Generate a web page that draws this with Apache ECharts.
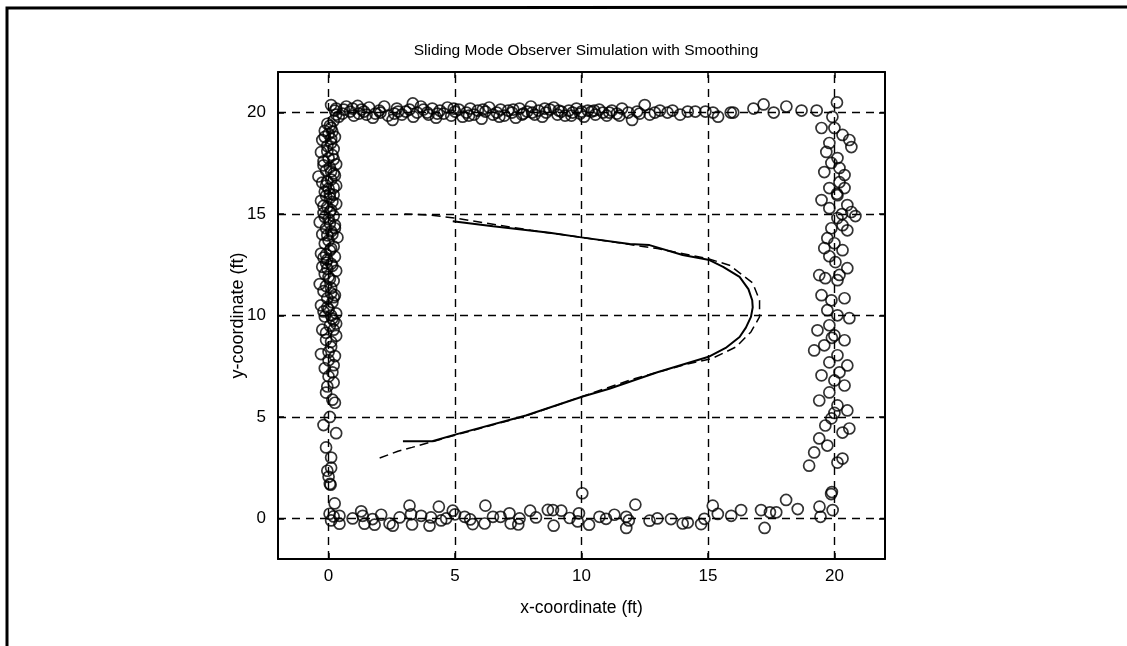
<!DOCTYPE html>
<html>
<head>
<meta charset="utf-8">
<script src="https://cdn.jsdelivr.net/npm/echarts@6/dist/echarts.min.js"></script>
<style>
html,body{margin:0;padding:0;background:#fff;}
#chart{width:1127px;height:646px;}
</style>
</head>
<body>
<div id="chart"></div>
<script>
const titleText = 'Sliding Mode Observer Simulation with Smoothing';
const xName = 'x-coordinate (ft)';
const yName = 'y-coordinate (ft)';
const xTicks = [0, 5, 10, 15, 20];
const yTicks = [0, 5, 10, 15, 20];

// measured landmark points (x, y) in ft
const topRow = [
[0.1,20.37],[0.25,20.1],[0.4,19.8],[0.3,20.2],[0.55,19.95],[0.7,20.3],[0.85,20.05],[1.0,19.85],[1.15,20.33],[1.3,20.15],
[1.5,19.9],[1.6,20.25],[1.75,19.75],[2.0,20.1],[2.05,20.0],[2.2,20.3],[2.35,19.85],[2.53,19.64],[2.7,20.2],[2.75,20.05],
[2.9,19.9],[3.33,20.45],[3.2,20.15],[3.35,19.8],[3.5,20.0],[3.65,20.3],[3.9,20.0],[3.95,19.9],[4.1,20.2],[4.25,19.75],
[4.4,20.1],[4.55,19.95],[4.7,20.25],[4.85,19.85],[5.0,20.05],[5.15,20.15],[5.3,19.8],[5.45,20.0],[5.6,20.2],[5.75,19.9],
[5.9,20.1],[6.05,19.7],[6.2,20.05],[6.35,20.25],[6.5,19.9],[6.65,20.0],[6.8,20.15],[6.95,19.85],[7.1,20.1],[7.25,20.0],
[7.4,19.75],[7.55,20.2],[7.7,19.95],[7.85,20.05],[8.0,20.3],[8.15,19.9],[8.3,20.1],[8.45,19.8],[8.6,20.0],[8.75,20.15],
[8.9,20.25],[9.05,19.9],[9.2,20.05],[9.35,19.85],[9.5,20.1],[9.65,20.0],[9.8,20.2],[9.95,19.95],[10.1,19.8],[10.25,20.1],
[10.4,20.05],[10.55,19.9],[10.7,20.15],[10.85,20.0],[11.0,19.85],[11.2,20.1],[11.4,19.95],[11.6,20.2],[11.85,20.0],[12.0,19.64],
[12.2,20.05],[12.5,20.37],[12.7,19.9],[13.1,20.1],[13.4,20.0],[13.9,19.9],[14.2,20.05],[14.5,20.05],[14.9,20.05],[15.2,20.0],
[15.4,19.8],[15.9,20.0],[16.0,20.0],[16.8,20.2],[17.2,20.4],[17.6,20.0],[18.1,20.3],[18.7,20.1],[19.3,20.1],
[0.6,20.15],[0.95,20.2],[1.2,19.95],[1.4,20.05],[1.85,19.95],[2.6,19.95],[3.05,20.05],[3.75,20.15],[4.3,19.95],[4.95,20.2],
[5.55,19.85],[6.1,20.15],[6.75,19.8],[7.3,20.15],[7.65,19.9],[8.05,20.0],[8.55,20.2],[9.1,20.1],[9.6,19.85],[10.0,20.05],
[10.5,20.1],[11.1,20.0],[11.5,19.85],[12.3,19.95],[12.9,20.0],[13.6,20.1]
];
const leftCol = [
[0.05,1.7],[0.0,2.05],[-0.05,2.35],[0.1,2.5],[-0.1,3.5],[0.3,4.2],[-0.2,4.6],[0.05,5.0],[0.25,5.7],[0.15,5.85],
[-0.1,6.2],[0.2,6.7],[0.0,7.0],[-0.15,7.4],[0.2,7.55],[-0.3,8.1],[0.25,8.0],[0.1,8.45],[-0.1,8.8],[0.3,9.0],
[-0.25,9.3],[0.05,9.5],[0.2,9.75],[-0.15,9.95],[0.3,10.1],[0.0,10.3],[-0.3,10.5],[0.15,10.65],[-0.05,10.85],[0.25,11.0],
[-0.2,11.2],[0.1,11.35],[-0.35,11.55],[0.2,11.7],[0.0,11.9],[-0.15,12.05],[0.3,12.2],[-0.25,12.4],[0.1,12.55],[-0.05,12.75],
[0.25,12.9],[-0.3,13.05],[0.05,13.2],[0.2,13.4],[-0.15,13.55],[0.0,13.7],[0.35,13.85],[-0.25,14.0],[0.1,14.15],[-0.1,14.3],
[0.25,14.45],[-0.35,14.6],[0.0,14.75],[0.2,14.9],[-0.2,15.05],[0.1,15.2],[-0.05,15.35],[0.3,15.5],[-0.3,15.65],[0.05,15.8],
[0.2,15.95],[-0.15,16.1],[0.0,16.25],[0.3,16.4],[-0.25,16.55],[0.1,16.7],[-0.4,16.85],[0.2,17.0],[-0.1,17.15],[0.05,17.3],
[0.3,17.45],[-0.2,17.6],[0.0,17.75],[0.15,17.9],[-0.3,18.05],[0.2,18.2],[-0.05,18.35],[0.1,18.5],[-0.25,18.65],[0.25,18.8],
[0.0,18.95],[-0.15,19.1],[0.1,19.25],[-0.05,19.45],[0.2,19.6],[-0.1,13.0],[0.15,14.0],[-0.2,15.4],[0.05,16.0],[0.25,16.9],
[-0.05,12.3],[0.1,11.1],[-0.2,10.2],[0.2,9.3],[0.0,8.2],[0.3,19.9],[0.3,9.6],
[0.1,8.7],[-0.1,9.15],[0.15,9.85],[-0.05,10.4],[0.2,10.9],[-0.1,11.45],[0.05,11.8],[0.15,12.45],[-0.2,12.85],[0.1,13.3],
[-0.05,13.95],[0.25,14.3],[-0.15,14.85],[0.05,15.1],[0.15,15.6],[-0.1,15.9],[0.2,16.3],[-0.05,16.6],[0.1,17.1],[-0.2,17.4],
[0.2,17.7],[-0.05,18.1],[0.1,18.7],[-0.15,18.8],[0.05,19.35],[0.15,19.05],[-0.1,12.6],[0.05,14.55],[-0.1,16.4],[0.1,10.0],
[0.0,7.8],[0.15,7.2],[-0.05,6.5],[0.1,3.0]
];
const bottomRow = [
[0.08,1.66],[0.24,0.74],[0.04,0.23],[0.2,0.1],[0.43,0.13],[0.43,-0.26],[0.1,-0.1],[0.95,0.0],[1.29,0.35],[1.35,0.13],
[1.42,-0.26],[1.74,-0.03],[1.82,-0.31],[2.08,0.18],[2.41,-0.25],[2.54,-0.36],[2.81,0.05],[3.2,0.63],[3.26,0.2],[3.3,-0.3],
[3.66,0.13],[3.99,-0.36],[4.05,0.05],[4.36,0.58],[4.45,-0.1],[4.65,0.0],[4.91,0.38],[5.0,0.2],[5.38,0.08],[5.6,-0.05],
[5.7,-0.28],[6.17,-0.25],[6.2,0.63],[6.5,0.08],[6.8,0.08],[7.15,0.25],[7.2,-0.25],[7.5,-0.3],[7.55,0.0],[7.97,0.38],
[8.2,0.05],[8.67,0.42],[8.87,0.41],[8.9,-0.36],[9.2,0.38],[9.53,0.02],[9.85,-0.15],[9.9,0.25],[10.03,1.24],[10.3,-0.31],
[10.71,0.08],[10.97,-0.02],[11.3,0.18],[11.77,0.08],[11.77,-0.47],[11.87,-0.1],[12.13,0.68],[12.69,-0.11],[13.0,0.0],[13.54,-0.03],
[14.0,-0.25],[14.2,-0.2],[14.73,-0.28],[14.86,-0.02],[15.19,0.63],[15.39,0.22],[15.92,0.13],[16.31,0.41],[17.1,0.41],[17.24,-0.47],
[17.45,0.3],[17.7,0.3],[18.09,0.91],[18.55,0.46],[19.41,0.58],[19.45,0.08],[19.87,1.2],[19.9,1.3],[19.93,0.41]
];
const rightCol = [
[20.1,20.5],[19.92,19.79],[19.49,19.24],[20.0,19.24],[20.32,18.9],[20.59,18.65],[20.67,18.3],[19.8,18.5],[19.68,18.06],[20.12,17.76],
[19.88,17.52],[20.2,17.27],[19.6,17.07],[20.4,16.92],[20.2,16.57],[19.8,16.28],[20.4,16.28],[20.12,15.93],[19.49,15.69],[20.51,15.44],
[19.8,15.29],[20.67,15.1],[20.83,14.9],[20.12,14.8],[20.32,14.45],[19.88,14.3],[20.51,14.2],[19.72,13.81],[20.0,13.56],[19.6,13.32],
[20.32,13.22],[19.8,12.92],[20.04,12.63],[20.51,12.33],[19.4,11.99],[19.64,11.84],[20.12,11.74],[19.49,11.0],[19.88,10.75],[20.4,10.85],
[19.72,10.26],[20.12,10.01],[20.59,9.87],[19.8,9.52],[19.33,9.27],[20.0,9.02],[20.4,8.78],[19.6,8.53],[19.2,8.28],[20.12,8.04],
[19.8,7.69],[20.51,7.54],[19.49,7.05],[20.0,6.8],[20.4,6.55],[19.8,6.21],[19.4,5.81],[20.12,5.57],[20.51,5.32],[19.88,4.93],
[19.64,4.58],[20.32,4.23],[20.59,4.43],[19.4,3.94],[19.72,3.59],[19.2,3.25],[20.32,2.95],[19.0,2.6],[20.12,2.75],[20.1,16.0],
[20.3,15.0],[20.2,12.0],[19.9,8.9],[20.2,7.2],[20.0,5.2]
];
// actual path (solid) and estimated path (dashed)
const truePath = [
[2.94,3.8],[4.1,3.8],[5.0,4.13],[7.8,5.07],[10.05,6.01],[11.1,6.39],[13.0,7.2],[15.06,7.98],[15.7,8.4],[16.25,8.94],
[16.5,9.4],[16.7,9.93],[16.77,10.4],[16.75,10.75],[16.6,11.3],[16.25,11.9],[15.6,12.4],[15.06,12.73],[14.0,12.98],[12.69,13.47],
[11.9,13.52],[9.99,13.85],[8.74,14.08],[6.5,14.4],[4.91,14.65]
];
const estPath = [
[2.02,2.98],[2.74,3.31],[3.3,3.5],[5.0,4.1],[7.8,5.05],[10.0,6.0],[12.0,6.85],[14.0,7.55],[15.18,7.89],[16.11,8.45],
[16.7,9.19],[17.04,9.93],[17.04,10.75],[16.77,11.6],[15.85,12.48],[15.0,12.8],[13.0,13.3],[10.0,13.85],[8.0,14.2],[5.0,14.8],
[4.0,14.95],[3.0,15.0]
];

const FONT = 'Liberation Sans, Arial, sans-serif';
const chart = echarts.init(document.getElementById('chart'), null, {renderer: 'canvas'});

const circleStyle = {color: 'rgba(0,0,0,0)', borderColor: '#000', borderWidth: 1.7};
function scatter(data) {
  return {type: 'scatter', data: data, symbol: 'circle', symbolSize: 11, itemStyle: circleStyle, silent: true, z: 5};
}
const gridLines = xTicks.map(v => ({xAxis: v})).concat(yTicks.map(v => ({yAxis: v})));

function mkXAxis(pos, showLabel) {
  return {
    type: 'value', position: pos, min: -2, max: 22, interval: 1,
    axisLine: {show: true, onZero: false, lineStyle: {color: '#000', width: 2}},
    axisTick: {show: true, inside: true, length: 6, customValues: xTicks, lineStyle: {color: '#000', width: 1.5}},
    axisLabel: {show: showLabel, customValues: xTicks, formatter: v => (v % 5 === 0 ? String(v) : ''), fontSize: 17, color: '#000', fontFamily: FONT, margin: 9},
    splitLine: {show: false},
    name: showLabel ? xName : '', nameLocation: 'middle', nameGap: 40,
    nameTextStyle: {fontSize: 17.5, color: '#000', fontFamily: FONT}
  };
}
function mkYAxis(pos, showLabel) {
  return {
    type: 'value', position: pos, min: -2, max: 22, interval: 1,
    axisLine: {show: true, onZero: false, lineStyle: {color: '#000', width: 2}},
    axisTick: {show: true, inside: true, length: 6, customValues: yTicks, lineStyle: {color: '#000', width: 1.5}},
    axisLabel: {show: showLabel, customValues: yTicks, formatter: v => (v % 5 === 0 ? String(v) : ''), fontSize: 17, color: '#000', fontFamily: FONT, margin: 12},
    splitLine: {show: false},
    name: showLabel ? yName : '', nameLocation: 'middle', nameGap: 31, nameMoveOverlap: false,
    nameTextStyle: {fontSize: 18, color: '#000', fontFamily: FONT}
  };
}

chart.setOption({
  animation: false,
  backgroundColor: '#fff',
  title: {
    text: titleText, left: 581, top: 38, textAlign: 'center',
    textStyle: {fontSize: 15.5, fontWeight: 'normal', color: '#000', fontFamily: FONT}
  },
  grid: {left: 278, right: 242, top: 72, bottom: 87},
  xAxis: [mkXAxis('bottom', true), mkXAxis('top', false)],
  yAxis: [mkYAxis('left', true), mkYAxis('right', false)],
  graphic: [{
    type: 'polyline',
    shape: {points: [[7, 646], [7, 8], [1127, 7]]},
    style: {stroke: '#000', lineWidth: 3, fill: null},
    silent: true
  }],
  series: [
    {
      type: 'line', data: [], silent: true,
      markLine: {
        silent: true, symbol: ['none', 'none'], animation: false,
        label: {show: false},
        lineStyle: {color: '#000', type: [8, 6], width: 1.4},
        emphasis: {disabled: true},
        data: gridLines
      }
    },
    scatter(topRow),
    scatter(leftCol),
    scatter(bottomRow),
    scatter(rightCol),
    {type: 'line', data: truePath, showSymbol: false, symbol: 'none', silent: true, z: 6,
     lineStyle: {color: '#000', width: 2, type: 'solid'}},
    {type: 'line', data: estPath, showSymbol: false, symbol: 'none', silent: true, z: 6,
     lineStyle: {color: '#000', width: 1.5, type: [9, 5]}}
  ]
});
</script>
</body>
</html>
